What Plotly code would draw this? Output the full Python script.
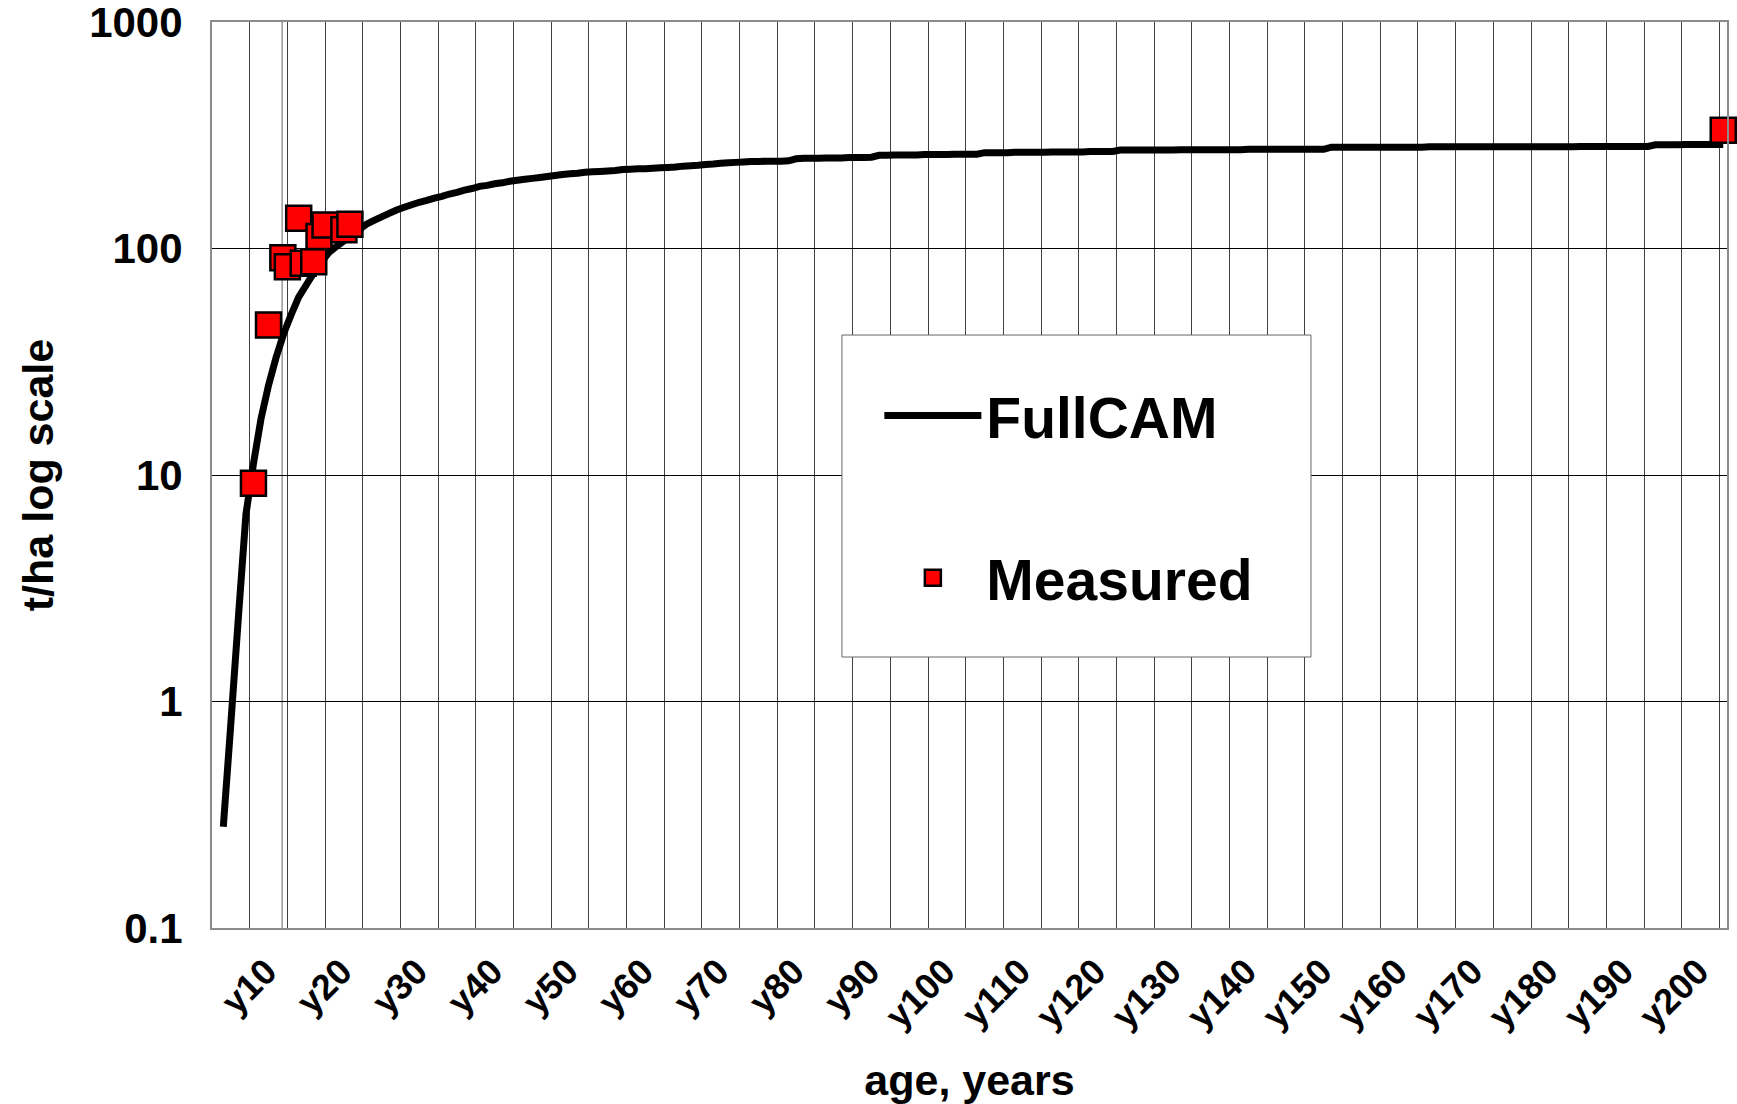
import plotly.graph_objects as go

# ---------------- data ----------------
fullcam_values = [
    0.28, 0.80, 2.35, 6.7, 11.2, 17.7, 24.9, 33, 42, 51,
    61, 69, 78, 87, 96, 102, 108, 114, 121, 128,
    133, 138, 143, 148, 152, 156, 160, 163, 167, 170,
    174, 177, 181, 184, 188, 190, 193, 195, 198, 200,
    202, 204, 206, 208, 210, 212, 214, 215, 217, 218,
    219, 220, 221, 223, 224, 225, 225, 226, 227, 228,
    229, 231, 232, 233, 235, 236, 238, 239, 240, 241,
    242, 242, 243, 243, 243, 244, 249, 250, 250, 250,
    251, 251, 251, 252, 252, 252, 253, 258, 258, 259,
    259, 259, 259, 260, 260, 260, 260, 261, 261, 261,
    261, 265, 265, 265, 265, 266, 266, 266, 266, 266,
    267, 267, 267, 267, 267, 268, 268, 268, 268, 272,
    272, 272, 272, 272, 272, 272, 272, 273, 273, 273,
    273, 273, 273, 273, 273, 273, 274, 274, 274, 274,
    274, 274, 274, 274, 274, 274, 274, 280, 280, 280,
    280, 280, 280, 280, 280, 280, 280, 280, 280, 280,
    281, 281, 281, 281, 281, 281, 281, 281, 281, 281,
    281, 281, 281, 281, 281, 281, 281, 281, 281, 281,
    282, 282, 282, 282, 282, 282, 282, 282, 282, 282,
    287, 287, 287, 287, 288, 288, 288, 288, 288, 288,
]
fullcam_ages = list(range(1, len(fullcam_values) + 1))

measured_ages = [5, 7, 8.9, 9.5, 11, 11.6, 13, 13.7, 14.5, 17, 17.8, 200]
measured_values = [9.2, 46, 91, 83, 136, 86, 87.5, 113, 127, 121, 128, 333]

tick_years = [10, 20, 30, 40, 50, 60, 70, 80, 90, 100,
              110, 120, 130, 140, 150, 160, 170, 180, 190, 200]
tick_labels = ["y10", "y20", "y30", "y40", "y50", "y60", "y70", "y80", "y90", "y100",
               "y110", "y120", "y130", "y140", "y150", "y160", "y170", "y180", "y190", "y200"]

y_ticks = [0.1, 1, 10, 100, 1000]
y_tick_labels = ["0.1", "1", "10", "100", "1000"]

# ---------------- styling ----------------
FONT = "Liberation Sans, Arial, sans-serif"
grid_x = [k * 5 - 0.5 for k in range(1, 41)]  # category boundaries every 5 years

fig = go.Figure()
fig.add_trace(go.Scatter(
    x=fullcam_ages, y=fullcam_values, mode="lines", name="FullCAM",
    line=dict(color="black", width=7, simplify=False), legendgroup="a",
))
fig.add_trace(go.Scatter(
    x=measured_ages, y=measured_values, mode="markers", name="Measured",
    marker=dict(symbol="square", size=25, color="#FF0000",
                line=dict(color="black", width=2.5)),
    legendgroup="b", cliponaxis=False,
))

# legend frame
fig.add_shape(type="rect", xref="paper", yref="paper",
              x0=0.4158, x1=0.7254, y0=0.2991, y1=0.6545,
              fillcolor="white", line=dict(color="#666666", width=1), layer="above")
# stray secondary-axis line seen in the original
fig.add_shape(type="line", xref="x", yref="paper", x0=8.8, x1=8.8, y0=0, y1=1,
              line=dict(color="#666666", width=1), layer="below")

fig.update_layout(
    width=1737, height=1104,
    margin=dict(l=212, r=10, t=22, b=176),
    paper_bgcolor="white", plot_bgcolor="white",
    font=dict(family=FONT, color="black"),
    showlegend=True,
    legend=dict(
        x=0.4405, y=0.6137, xanchor="left", yanchor="top",
        bgcolor="rgba(0,0,0,0)", borderwidth=0,
        font=dict(family=FONT, size=57, weight="bold", color="black"),
        itemwidth=97, traceorder="grouped", tracegroupgap=85,
    ),
    xaxis=dict(
        range=[-0.5, 200.5], tickmode="array", tickvals=tick_years, ticktext=tick_labels,
        tickangle=-45, tickfont=dict(family=FONT, size=36, weight="bold"),
        showgrid=False, zeroline=False, ticks="", ticklabelstandoff=6,
        ticklabelshift=-25,
        ticklabeloverflow="allow", automargin=False,
        minor=dict(tickmode="array", tickvals=grid_x, showgrid=True,
                   gridcolor="#404040", gridwidth=1, ticks=""),
        showline=True, linecolor="#8c8c8c", linewidth=2, mirror=True,
        title=dict(text="age, years", font=dict(family=FONT, size=43, weight="bold"),
                   standoff=42),
    ),
    yaxis=dict(
        type="log", range=[-1, 3], tickmode="array", tickvals=y_ticks, ticktext=y_tick_labels,
        tickfont=dict(family=FONT, size=42, weight="bold"),
        showgrid=True, gridcolor="black", gridwidth=1, zeroline=False,
        ticks="", ticklabelstandoff=19, ticklabeloverflow="allow", automargin=False,
        showline=True, linecolor="#8c8c8c", linewidth=2, mirror=True,
        title=dict(text="t/ha log scale", font=dict(family=FONT, size=43, weight="bold"),
                   standoff=22),
    ),
)

fig.write_html(
    "out.html",
    config={"displayModeBar": False},
    post_script="document.body.style.margin='0';document.body.style.overflow='hidden';",
)
